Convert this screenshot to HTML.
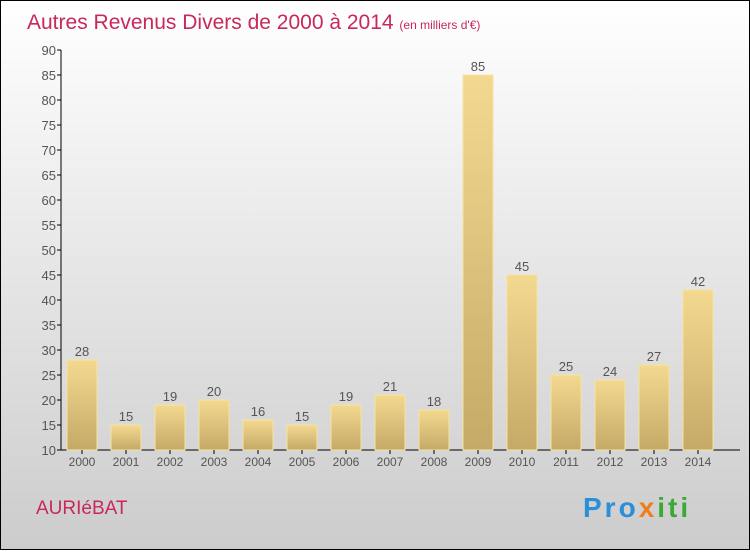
<!DOCTYPE html>
<html><head><meta charset="utf-8"><style>
body{margin:0}
svg text{font-family:"Liberation Sans",sans-serif}
</style></head><body>
<svg width="750" height="550" viewBox="0 0 750 550" xmlns="http://www.w3.org/2000/svg">
<defs>
<linearGradient id="bg" x1="0" y1="0" x2="0" y2="1"><stop offset="0" stop-color="#ffffff"/><stop offset="1" stop-color="#cccccc"/></linearGradient>
<linearGradient id="bar" x1="0" y1="0" x2="0" y2="1"><stop offset="0" stop-color="#f3d990"/><stop offset="1" stop-color="#c4aa66"/></linearGradient>
</defs>
<rect x="0.5" y="0.5" width="749" height="549" fill="url(#bg)" stroke="#000"/>
<text x="27" y="29" font-size="21" fill="#c8285a">Autres Revenus Divers de 2000 à 2014 <tspan font-size="12">(en milliers d'€)</tspan></text>
<g id="yaxis"></g>
<g id="bars"></g>
<text x="36" y="514" font-size="19" fill="#c8285a">AURIéBAT</text>
<text x="583" y="517" font-size="28" font-weight="bold" letter-spacing="3"><tspan fill="#2a8fd6">Pro</tspan><tspan fill="#f07c1a">x</tspan><tspan fill="#3aaa35">iti</tspan></text>
</svg>
<script>
const years=["2000","2001","2002","2003","2004","2005","2006","2007","2008","2009","2010","2011","2012","2013","2014"];
const values=[28,15,19,20,16,15,19,21,18,85,45,25,24,27,42];
const yTicks=[10,15,20,25,30,35,40,45,50,55,60,65,70,75,80,85,90];
const NS="http://www.w3.org/2000/svg";
const y=v=>450-(v-10)*5;
const x=i=>82+i*44;
function mk(t,a,p){const e=document.createElementNS(NS,t);for(const k in a)e.setAttribute(k,a[k]);p.appendChild(e);return e;}
const ya=document.getElementById('yaxis');
mk('line',{x1:61,y1:50,x2:61,y2:450,stroke:'#000'},ya);
mk('line',{x1:61,y1:450,x2:740,y2:450,stroke:'#000'},ya);
yTicks.forEach(v=>{
 const l=mk('line',{x1:57,y1:y(v),x2:61,y2:y(v),stroke:'#000'},ya);
 
 
 const t=mk('text',{x:56,y:y(v)+5,'font-size':13,fill:'#555','text-anchor':'end'},ya);
 t.textContent=v;
 
 
});
const bg=document.getElementById('bars');
years.forEach((yr,i)=>{
 const r=mk('rect',{x:x(i)-15,y:y(values[i]),width:30,height:450-y(values[i]),fill:'url(#bar)',stroke:'#f6e3a0','stroke-width':1},bg);
 
 
 const v=mk('text',{x:x(i),y:y(values[i])-4,'font-size':13,fill:'#555','text-anchor':'middle'},bg);
 v.textContent=values[i];
 
 
 mk('line',{x1:x(i),y1:450,x2:x(i),y2:454,stroke:'#000'},bg);
 const t=mk('text',{x:x(i),y:466,'font-size':12,fill:'#555','text-anchor':'middle'},bg);
 t.textContent=yr;
 
 
});
</script>
</body></html>
